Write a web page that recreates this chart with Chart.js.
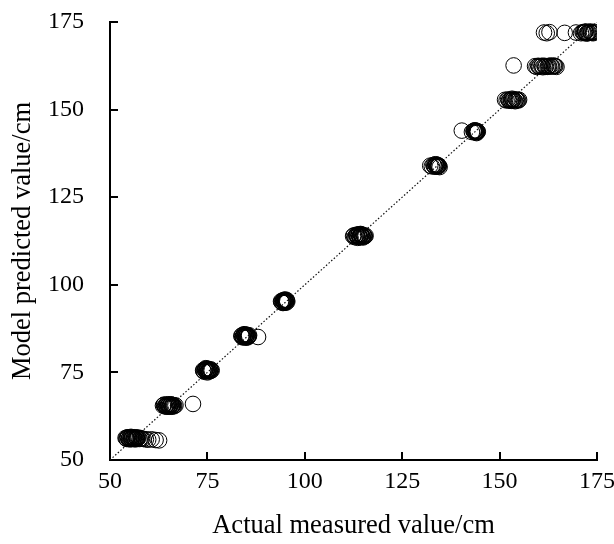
<!DOCTYPE html>
<html>
<head>
<meta charset="utf-8">
<script src="https://cdn.jsdelivr.net/npm/chart.js@4/dist/chart.umd.min.js"></script>
<style>
  html, body { margin: 0; padding: 0; background: #fff; }
  #wrap { width: 614px; height: 544px; }
</style>
</head>
<body>
<div id="wrap"><canvas id="c" width="614" height="544"></canvas></div>
<script>
// Actual measured values (cm)
const actualValues = [
  54.0,54.3,54.6,54.9,55.2,55.4,55.6,55.8,56.0,56.2,56.4,56.6,56.8,57.0,57.3,57.6,57.9,58.2,58.6,59.2,59.8,60.7,61.7,62.6,
  54.2,54.5,54.8,55.0,55.3,55.5,55.7,56.1,56.3,56.7,56.9,57.1,
  63.6,63.9,64.2,64.5,64.7,64.9,65.1,65.3,65.5,65.7,65.9,66.1,66.3,66.5,66.8,71.3,
  63.8,64.1,64.4,64.8,65.0,65.2,65.4,65.6,65.8,66.0,66.2,64.6,
  73.9,74.2,74.5,74.7,74.9,75.1,75.3,75.5,75.7,75.9,76.1,74.6,
  74.0,74.3,74.8,75.0,75.2,75.4,75.6,75.8,75.0,74.4,
  83.7,84.0,84.3,84.5,84.7,84.9,85.1,85.3,85.5,85.7,84.4,88.0,
  83.9,84.2,84.6,84.8,85.0,85.2,85.4,84.1,85.6,84.9,
  93.9,94.2,94.5,94.7,94.9,95.1,95.3,95.5,94.4,95.0,
  94.0,94.3,94.6,94.8,95.0,95.2,95.4,94.5,95.1,94.8,
  112.4,112.8,113.2,113.5,113.8,114.1,114.4,114.7,115.0,115.3,115.6,113.6,114.3,114.9,
  112.6,113.0,113.4,113.9,114.2,114.6,114.8,115.2,115.4,113.3,114.0,114.5,
  132.2,132.6,133.0,133.4,133.7,134.0,134.3,134.6,133.5,134.2,
  133.2,133.6,133.9,134.1,134.4,133.8,
  140.3,142.9,143.3,143.6,143.8,144.0,144.2,144.4,143.7,144.1,
  143.4,143.9,144.3,143.5,144.0,
  151.4,151.8,152.2,152.6,153.0,153.4,153.8,154.2,154.6,155.0,153.2,154.0,
  152.4,152.9,153.3,153.6,154.4,154.8,
  153.6,159.1,159.5,159.9,160.3,160.7,161.1,161.5,161.9,162.3,162.7,163.1,163.5,163.9,164.3,164.6,
  160.1,160.9,161.7,162.5,163.3,164.1,
  161.4,162.1,162.8,166.7,169.6,170.9,171.3,171.7,172.1,172.5,172.9,173.3,173.6,173.9,174.2,172.3,173.1,171.9,
  172.7,173.5,171.5,174.0,172.0
];
// Model predicted values (cm)
const predictedValues = [
  56.3,56.0,56.5,56.2,55.9,56.6,56.1,56.4,56.0,56.5,56.2,55.9,56.3,56.1,56.4,56.0,56.2,56.1,56.0,55.9,55.8,55.9,55.7,55.6,
  56.2,56.4,56.0,56.5,56.3,56.0,56.4,56.2,56.0,56.4,56.1,56.3,
  65.5,65.8,65.3,65.6,65.9,65.4,65.7,65.2,65.6,65.8,65.4,65.6,65.3,65.5,65.6,66.0,
  65.7,65.4,65.6,65.5,65.8,65.3,65.5,65.9,65.2,65.5,65.7,65.2,
  75.6,75.2,75.9,75.4,76.1,75.5,75.8,75.3,75.7,75.5,75.6,76.2,
  75.4,75.8,75.5,75.9,75.3,75.7,75.4,75.9,75.0,75.6,
  85.4,85.1,85.7,85.3,85.6,85.2,85.5,85.0,85.4,85.6,85.9,85.1,
  85.6,85.3,85.1,85.8,85.4,85.7,85.2,85.0,85.3,84.9,
  95.3,95.0,95.6,95.2,95.5,95.1,95.4,95.2,94.8,95.8,
  95.1,95.5,95.0,95.7,95.3,94.9,95.6,95.4,95.2,94.9,
  113.9,113.6,114.2,113.8,114.3,113.7,114.1,113.9,114.2,113.8,114.0,113.4,114.5,113.5,
  114.1,113.8,114.0,114.4,113.6,114.2,113.7,114.0,113.9,114.3,113.6,114.4,
  134.0,133.8,134.2,133.7,134.1,133.9,134.0,133.6,134.4,133.8,
  133.9,134.1,133.7,134.2,133.9,134.3,
  144.0,143.6,143.9,143.5,143.8,143.6,143.9,143.7,144.1,143.3,
  143.8,143.5,143.7,144.0,143.9,
  152.8,152.6,152.9,152.7,152.5,152.8,152.6,152.9,152.7,152.8,153.1,152.4,
  152.6,152.8,152.6,152.9,152.7,152.6,
  162.6,162.4,162.2,162.5,162.3,162.4,162.1,162.5,162.3,162.2,162.4,162.6,162.3,162.5,162.4,162.2,
  162.3,162.5,162.2,162.4,162.3,162.5,
  172.0,171.8,172.1,171.9,172.0,171.8,172.1,171.9,172.2,171.8,172.0,172.1,171.9,172.0,172.2,171.7,172.3,172.2,
  171.9,172.1,172.0,171.8,172.2
];
// 1:1 reference line end values
const lineEnds = [50, 175];
// Axis tick values
const xTickValues = [50, 75, 100, 125, 150, 175];
const yTickValues = [50, 75, 100, 125, 150, 175];

const points = actualValues.map((x, i) => ({ x: x, y: predictedValues[i] }));
const refLine = lineEnds.map(v => ({ x: v, y: v }));

const FONT = "'Liberation Serif', 'Times New Roman', serif";
Chart.defaults.font.family = FONT;
Chart.defaults.color = '#000';

const innerTicks = {
  id: 'innerTicks',
  afterDraw(chart) {
    const { ctx, scales, chartArea: a } = chart;
    const xs = scales.x, ys = scales.y;
    ctx.save();
    ctx.strokeStyle = '#000';
    ctx.lineWidth = 2;
    xTickValues.forEach(v => {
      if (v === xs.min) return;
      const px = Math.round(xs.getPixelForValue(v));
      ctx.beginPath(); ctx.moveTo(px, a.bottom); ctx.lineTo(px, a.bottom - 8); ctx.stroke();
    });
    yTickValues.forEach(v => {
      if (v === ys.min) return;
      const py = Math.round(ys.getPixelForValue(v));
      ctx.beginPath(); ctx.moveTo(a.left, py); ctx.lineTo(a.left + 8, py); ctx.stroke();
    });
    ctx.restore();
  }
};

new Chart(document.getElementById('c'), {
  type: 'scatter',
  data: {
    datasets: [
      {
        type: 'line',
        data: refLine,
        borderColor: '#111',
        borderWidth: 1.2,
        borderDash: [1.5, 2],
        pointRadius: 0,
        fill: false,
        order: 2
      },
      {
        data: points,
        pointStyle: 'circle',
        pointRadius: 7.8,
        pointHoverRadius: 7.8,
        backgroundColor: 'rgba(0,0,0,0)',
        borderColor: '#000',
        borderWidth: 1,
        order: 1
      }
    ]
  },
  options: {
    responsive: false,
    animation: false,
    events: [],
    layout: { padding: { left: 0, right: 17, top: 22, bottom: 0 } },
    plugins: { legend: { display: false }, tooltip: { enabled: false } },
    scales: {
      x: {
        type: 'linear',
        min: 50, max: 175,
        afterBuildTicks: s => { s.ticks = xTickValues.map(v => ({ value: v })); },
        afterFit: s => { s.height = 84; s.paddingLeft = 0; s.paddingRight = 0; },
        grid: { display: false, drawTicks: false },
        border: { display: true, color: '#000', width: 2 },
        ticks: { color: '#000', font: { size: 24 }, padding: 7, maxRotation: 0 },
        title: { display: true, text: 'Actual measured value/cm', color: '#000', font: { size: 26.5 }, padding: { top: 0, bottom: 2 } }
      },
      y: {
        type: 'linear',
        min: 50, max: 175,
        afterBuildTicks: s => { s.ticks = yTickValues.map(v => ({ value: v })); },
        afterFit: s => { s.width = 110; s.paddingTop = 0; s.paddingBottom = 0; },
        grid: { display: false, drawTicks: false },
        border: { display: true, color: '#000', width: 2 },
        ticks: { color: '#000', font: { size: 24 }, padding: 26 },
        title: { display: true, text: 'Model predicted value/cm', color: '#000', font: { size: 26.5 }, padding: { top: 7, bottom: 0 } }
      }
    }
  },
  plugins: [innerTicks]
});
</script>
</body>
</html>
